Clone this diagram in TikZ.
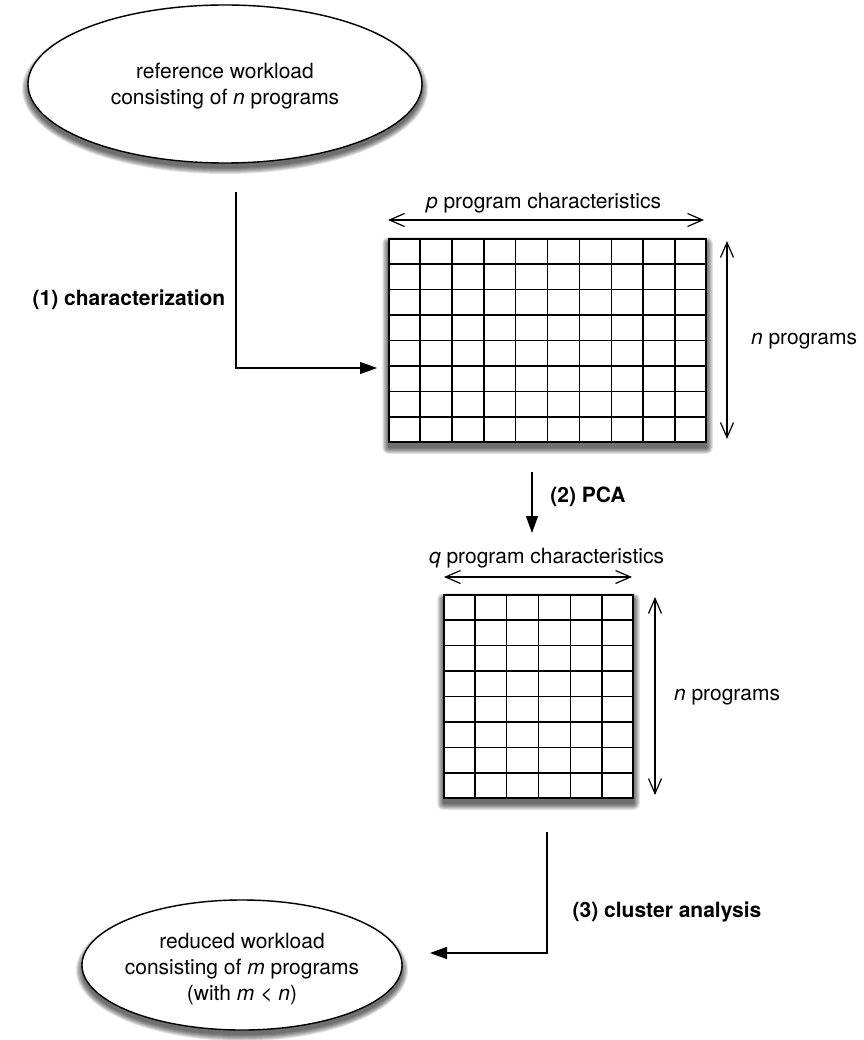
\documentclass[tikz,border=0pt]{standalone}
\usepackage{fontspec}
\setmainfont{TeX Gyre Heros}
\usetikzlibrary{arrows.meta,calc,shapes.geometric}
\pgfdeclarelayer{paper}
\pgfdeclarelayer{shade}
\pgfsetlayers{paper,shade,main}
\begin{document}
\begin{tikzpicture}[x=1pt,y=-1pt,
  txt/.style={inner sep=0pt,align=center,font=\fontsize{21}{26}\selectfont},
  lbl/.style={inner sep=0pt,font=\fontsize{21}{26}\selectfont\bfseries},
  shadelayer/.style={fill=black,opacity=0.11},
  blob/.style={ellipse,draw=black,line width=1.4pt,fill=white,inner sep=0pt},
  matrixbox/.style={rectangle,draw=black,line width=1.5pt,fill=white,inner sep=0pt},
  gridline/.style={line width=1.4pt},
  flow/.style={line width=1.3pt,-{Triangle[length=17pt,width=12pt]}},
  barb/.tip={Straight Barb[length=15pt,width=13pt,line width=1.2pt]},
  dim/.style={line width=1.2pt,barb-barb}]
\begin{pgfonlayer}{paper}
\fill[white] (0,0) rectangle (863,1040);
\end{pgfonlayer}
\useasboundingbox (0,0) rectangle (863,1040);

% top ellipse
\node[blob,minimum width=394pt,minimum height=158pt] (top) at (225,84) {};
\node[txt] (toptxt) at (225,86) {reference workload\\consisting of \textit{n} programs};

% grid 1
\node[matrixbox,minimum width=317pt,minimum height=203pt] (grid1) at (547.5,340.5) {};
\foreach \i in {1,...,9}
  \draw[gridline] ($(grid1.north west)!\i/10!(grid1.north east)$) -- ($(grid1.south west)!\i/10!(grid1.south east)$);
\foreach \j in {1,...,7}
  \draw[gridline] ($(grid1.north west)!\j/8!(grid1.south west)$) -- ($(grid1.north east)!\j/8!(grid1.south east)$);

\coordinate (pl) at (388,220);
\coordinate (pr) at (704,220);
\draw[dim] (pl) -- (pr);
\node[txt] (ptxt) at (543.5,203) {\textit{p} program characteristics};
\coordinate (n1t) at (727,241);
\coordinate (n1b) at (727,439);
\draw[dim] (n1t) -- (n1b);
\node[txt] (n1txt) at (804,341) {\textit{n} programs};

% arrow 1
\coordinate (a1s) at (236,192);
\coordinate (a1e) at (377,368);
\draw[flow] (a1s) |- (a1e);
\node[lbl] (l1) at (129,300) {(1) characterization};

% arrow 2
\coordinate (a2s) at (532,472);
\coordinate (a2e) at (532,533);
\draw[flow] (a2s) -- (a2e);
\node[lbl] (l2) at (588,497) {(2) PCA};

% grid 2
\node[matrixbox,minimum width=189pt,minimum height=203pt] (grid2) at (538.5,696.5) {};
\foreach \i in {1,...,5}
  \draw[gridline] ($(grid2.north west)!\i/6!(grid2.north east)$) -- ($(grid2.south west)!\i/6!(grid2.south east)$);
\foreach \j in {1,...,7}
  \draw[gridline] ($(grid2.north west)!\j/8!(grid2.south west)$) -- ($(grid2.north east)!\j/8!(grid2.south east)$);

\coordinate (ql) at (444,577);
\coordinate (qr) at (632,577);
\draw[dim] (ql) -- (qr);
\node[txt] (qtxt) at (546.5,558) {\textit{q} program characteristics};
\coordinate (n2t) at (655,597);
\coordinate (n2b) at (655,795);
\draw[dim] (n2t) -- (n2b);
\node[txt] (n2txt) at (727,697) {\textit{n} programs};

% bottom ellipse
\node[blob,minimum width=320pt,minimum height=130pt] (bot) at (242,965) {};
\node[txt] (bottxt) at (242,969) {reduced workload\\consisting of \textit{m} programs\\(with \textit{m} < \textit{n})};

% arrow 3
\coordinate (a3s) at (547,832);
\coordinate (a3e) at (430,953);
\draw[flow] (a3s) |- (a3e);
\node[lbl] (l3) at (667,912) {(3) cluster analysis};

% soft shadows
\begin{pgfonlayer}{shade}
\foreach \k in {0,...,6} {
  \foreach \n in {grid1,grid2}
    \fill[shadelayer,rounded corners=\k pt]
      ([xshift=-\k pt,yshift={-5pt-\k pt}]\n.south west) rectangle
      ([xshift=\k pt,yshift={-5pt+\k pt}]\n.north east);
  \fill[shadelayer] ([yshift=-5pt]top.center) ellipse [x radius={197pt+\k pt}, y radius={79pt+\k pt}];
  \fill[shadelayer] ([yshift=-5pt]bot.center) ellipse [x radius={160pt+\k pt}, y radius={65pt+\k pt}];
}
\end{pgfonlayer}
\end{tikzpicture}
\end{document}
